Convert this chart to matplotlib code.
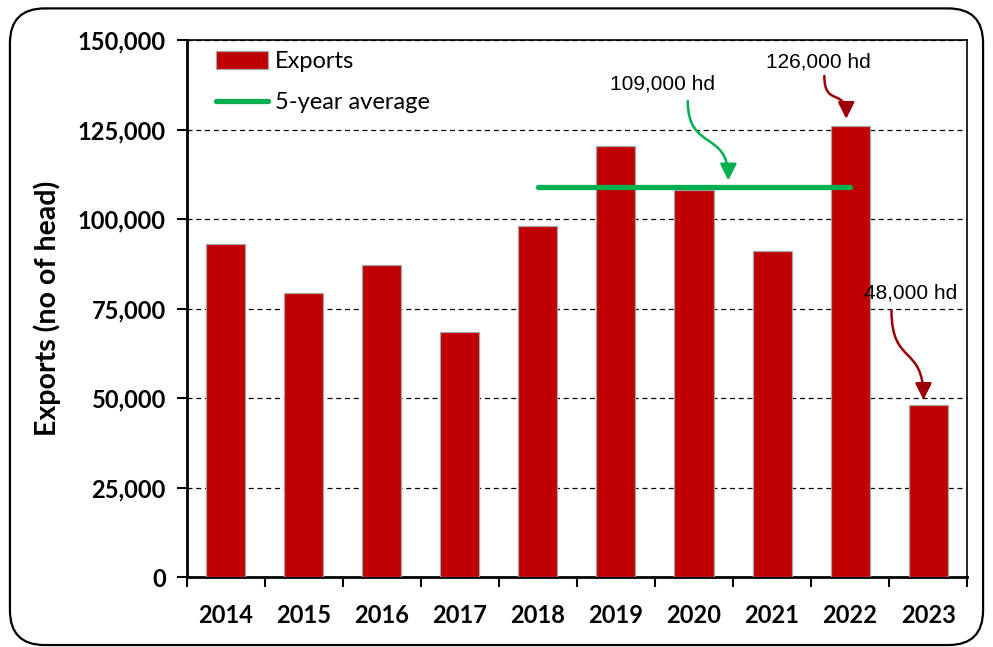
import matplotlib.pyplot as plt
from matplotlib.patches import FancyBboxPatch, FancyArrowPatch
from matplotlib.path import Path
from matplotlib.ticker import FuncFormatter, MultipleLocator

# Annual exports, number of head
years = ["2014", "2015", "2016", "2017", "2018", "2019", "2020", "2021", "2022", "2023"]
exports = [93000, 79300, 87100, 68400, 98000, 120500, 108000, 91200, 126000, 48000]

# 5-year average over 2018-2022
avg_years = ["2018", "2022"]
avg_value = 109000

BAR_RED = "#C00000"
ARROW_RED = "#9C0006"
GREEN = "#00B050"

plt.rcParams["font.family"] = ["Lato", "DejaVu Sans"]

fig = plt.figure(figsize=(9.93, 6.47), dpi=100)
ax = fig.add_axes([0.188, 0.108, 0.786, 0.830])

# rounded border round the whole chart
frame = FancyBboxPatch((0.010, 0.003), 0.980, 0.984,
                       boxstyle="round,pad=0,rounding_size=0.035",
                       transform=fig.transFigure, fill=False,
                       edgecolor="black", linewidth=1.6, mutation_aspect=993/647)
fig.patches.append(frame)

x = list(range(len(years)))
bars = ax.bar(x, exports, width=0.5, color=BAR_RED, edgecolor="#A6A6A6",
              linewidth=0.9, label="Exports", zorder=3)

xa = [years.index(y) for y in avg_years]
avg_line, = ax.plot(xa, [avg_value, avg_value], color=GREEN, linewidth=3.8,
                    solid_capstyle="round", label="5-year average", zorder=4)

ax.set_xlim(-0.5, len(years) - 0.5)
ax.set_ylim(0, 150000)
ax.yaxis.set_major_locator(MultipleLocator(25000))
ax.yaxis.set_major_formatter(FuncFormatter(lambda v, p: f"{int(v):,}"))
ax.grid(axis="y", linestyle=(0, (4, 3)), color="black", linewidth=0.9, zorder=0)
ax.set_axisbelow(True)

# tick marks between categories, labels at the centres
ax.set_xticks([i - 0.5 for i in range(len(years) + 1)])
ax.set_xticklabels([])
ax.set_xticks(x, minor=True)
ax.set_xticklabels(years, minor=True)
ax.tick_params(axis="x", which="major", length=7, width=1.5, direction="out")
ax.tick_params(axis="x", which="minor", length=0, pad=19)
ax.tick_params(axis="y", length=7, width=1.5, direction="out", pad=8)
for lab in ax.get_xticklabels(minor=True) + ax.get_yticklabels():
    lab.set_fontsize(17)
    lab.set_fontweight("bold")

for side in ["left", "bottom"]:
    ax.spines[side].set_linewidth(2)
for side in ["top", "right"]:
    ax.spines[side].set_linewidth(1.2)

ax.set_ylabel("Exports (no of head)", fontsize=20.5, fontweight="bold", labelpad=12)

ax.legend([bars, avg_line], ["Exports", "5-year average"], loc="upper left",
          frameon=False, fontsize=17, handlelength=2.2, handleheight=0.8,
          handletextpad=0.3, labelspacing=0.85, bbox_to_anchor=(0.01, 1.02))

# value callouts with curved arrows
narrow = ["Liberation Sans Narrow", "Liberation Sans", "DejaVu Sans"]


def callout(text, tx, ty, start, end, color):
    ax.text(tx, ty, text, ha="center", va="center", fontsize=15,
            family=narrow, color="black", zorder=6)
    ymid = (start[1] + end[1]) / 2
    verts = [start, (start[0], ymid - 3000), (end[0], ymid + 3000), end]
    codes = [Path.MOVETO, Path.CURVE4, Path.CURVE4, Path.CURVE4]
    arr = FancyArrowPatch(path=Path(verts, codes),
                          arrowstyle="-|>,head_length=10,head_width=5",
                          color=color, linewidth=1.8, zorder=6)
    ax.add_patch(arr)


callout("109,000 hd", 5.6, 137700, (5.92, 133000), (6.44, 110800), GREEN)
callout("126,000 hd", 7.59, 143900, (7.67, 140000), (7.95, 128000), ARROW_RED)
callout("48,000 hd", 8.77, 79300, (8.53, 74500), (8.94, 49500), ARROW_RED)

fig.savefig("out.png", dpi=100)
